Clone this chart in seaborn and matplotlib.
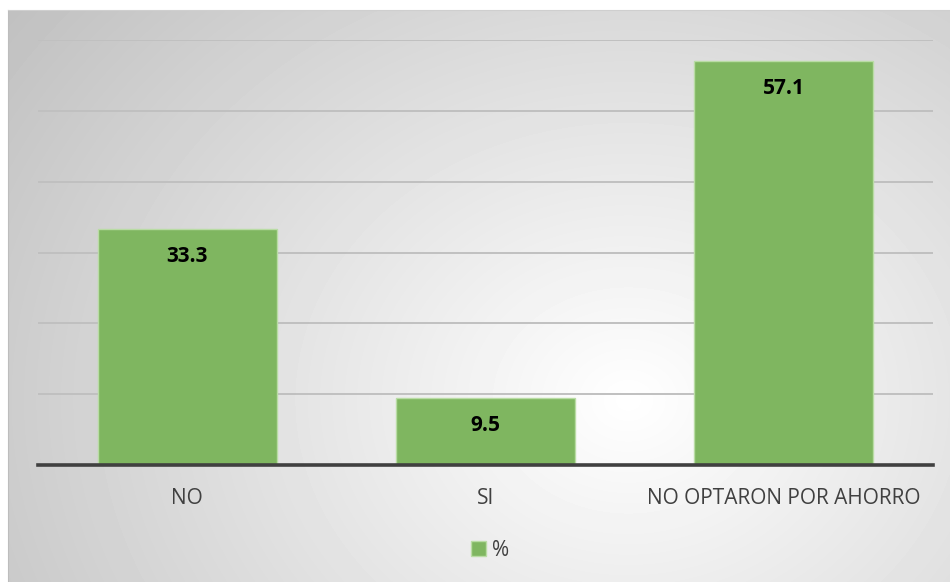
import numpy as np
import pandas as pd
import matplotlib
matplotlib.use('Agg')
import matplotlib.pyplot as plt
from matplotlib.patches import Patch
import seaborn as sns

categories = ['NO', 'SI', 'NO OPTARON POR AHORRO']
values = [33.3, 9.5, 57.1]
value_labels = ['33.3', '9.5', '57.1']
legend_label = '%'

df = pd.DataFrame({'categoria': categories, 'pct': values})

sns.set_style('white')
plt.rcParams['font.family'] = ['Open Sans', 'DejaVu Sans']

fig = plt.figure(figsize=(9.5, 5.82), dpi=100)

# radial gradient background (white centre, grey edges)
bg = fig.add_axes([8 / 950, 0, 1 - 8 / 950, 1 - 10 / 582], zorder=0)
w, h = 942, 572
yy, xx = np.mgrid[0:h, 0:w]
cx, cy = 620, 390
d = np.sqrt(((xx - cx) / 600) ** 2 + ((yy - cy) / 500) ** 2)
shade = 1 - 0.19 * d
bg.imshow(shade, cmap='gray', vmin=0, vmax=1, aspect='auto', interpolation='bilinear')
bg.set_xticks([])
bg.set_yticks([])
for s in bg.spines.values():
    s.set_visible(False)
bg.spines['left'].set_visible(True)
bg.spines['left'].set_color('#bdbdbd')
bg.spines['top'].set_visible(True)
bg.spines['top'].set_color('#cfcfcf')

ax = fig.add_axes([38 / 950, 1 - 465 / 582, (933 - 38) / 950, (465 - 40) / 582], zorder=1)
ax.patch.set_alpha(0)

sns.barplot(data=df, x='categoria', y='pct', color='#7fb660', width=0.6,
            edgecolor='#b9dca4', linewidth=1, saturation=1, ax=ax, zorder=2)

ax.set_ylim(0, 60)
ax.set_yticks([10, 20, 30, 40, 50, 60])
ax.yaxis.grid(True, color='#c0c0c0', linewidth=1.4)
ax.set_axisbelow(True)
ax.tick_params(axis='y', left=False, labelleft=False)
ax.tick_params(axis='x', bottom=False, labelsize=15, labelcolor='#404040', pad=13)
ax.set_xlabel('')
ax.set_ylabel('')
for s in ['top', 'right', 'left']:
    ax.spines[s].set_visible(False)
ax.spines['bottom'].set_color('#404040')
ax.spines['bottom'].set_linewidth(2.6)

for i, (v, lab) in enumerate(zip(values, value_labels)):
    ax.annotate(lab, (i, v), xytext=(0, -20), textcoords='offset points',
                ha='center', va='center', fontsize=15, fontweight='bold', color='black')

handles = [Patch(facecolor='#7fb660', edgecolor='#b9dca4', label=legend_label)]
fig.legend(handles=handles, loc='center', bbox_to_anchor=(490 / 950, 1 - 550 / 582),
           frameon=False, fontsize=15, handlelength=0.7, handleheight=0.7,
           handletextpad=0.3, labelcolor='#404040')

fig.savefig('out.png', dpi=100)
